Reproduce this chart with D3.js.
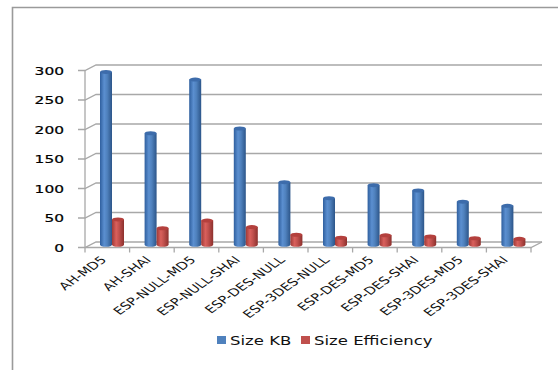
<!DOCTYPE html>
<html><head><meta charset="utf-8">
<script src="https://cdn.jsdelivr.net/npm/d3@7/dist/d3.min.js"></script>
<style>html,body{margin:0;padding:0;background:#fff;}svg{display:block;}</style>
</head><body>
<script>
const categories = ["AH-MD5","AH-SHAI","ESP-NULL-MD5","ESP-NULL-SHAI","ESP-DES-NULL","ESP-3DES-NULL","ESP-DES-MD5","ESP-DES-SHAI","ESP-3DES-MD5","ESP-3DES-SHAI"];
const sizeKB = [293, 189, 280, 197, 106, 79, 101, 92, 73, 66];
const sizeEfficiency = [43, 28, 41, 30, 17, 12, 16, 14, 11, 10];
const seriesNames = ["Size KB", "Size Efficiency"];
const yTicks = [0, 50, 100, 150, 200, 250, 300];

const W = 558, H = 370, SX = 1.4;
const svg = d3.select("body").append("svg").attr("width", W).attr("height", H);
const defs = svg.append("defs");
function grad(id, stops) {
  const g = defs.append("linearGradient").attr("id", id).attr("x1", "0").attr("x2", "1").attr("y1", "0").attr("y2", "0");
  stops.forEach(s => g.append("stop").attr("offset", s[0]).attr("stop-color", s[1]));
}
grad("gBlue", [[0, "#2f5f9e"], [0.35, "#5b8fd0"], [0.6, "#4f81bd"], [1, "#2c5589"]]);
grad("gRed", [[0, "#9e3a37"], [0.35, "#d9605c"], [0.6, "#c0504d"], [1, "#8c302d"]]);
const fills = ["url(#gBlue)", "url(#gRed)"];
const tops = ["#3d6cab", "#b4403d"];
const legendCols = ["#4f81bd", "#c0504d"];

// outer frame
svg.append("path").attr("d", `M12.5,${H} V7.5 H${W}`).attr("fill", "none").attr("stroke", "#9a9a9a").attr("stroke-width", 1.6);

const x0 = 85, x1 = 531, yBase = 247.5, yTop = 70.5;
const dx = 11, dy = -5.5;
const y = d3.scaleLinear().domain([0, 300]).range([yBase, yTop]);
const x = d3.scaleBand().domain(categories).range([x0, x1]);
const xs = d3.scaleBand().domain(seriesNames).range([9.5, 33.5]);

// grid lines (back wall) + side diagonals + front ticks
const g = svg.append("g").attr("stroke", "#a8a8a8").attr("stroke-width", 1.3).attr("fill", "none");
yTicks.forEach(t => {
  const yy = y(t);
  g.append("path").attr("d", `M${x0 - 7},${yy} H${x0} L${x0 + dx},${yy + dy} H${x1 + dx}`);
});
g.append("path").attr("d", `M${x0},${y(0)} V${y(300)}`);
g.append("path").attr("d", `M${x0},${yBase} H${x1} L${x1 + dx},${yBase + dy}`);
categories.forEach((c, i) => {
  const xx = x(c);
  g.append("path").attr("d", `M${xx},${yBase} v5`);
});
g.append("path").attr("d", `M${x1},${yBase} v5`);

// y tick labels
svg.append("g").selectAll("text").data(yTicks).join("text")
  .attr("transform", d => `translate(64,${y(d) + 4}) scale(${SX},1)`)
  .attr("text-anchor", "end").attr("font-family", "DejaVu Sans").attr("font-size", 11)
  .attr("fill", "#000").attr("stroke", "#000").attr("stroke-width", 0.2).text(d => d);

// bars
const data = [sizeKB, sizeEfficiency];
const bh = dx / 2, bv = dy / 2;
data.forEach((vals, si) => {
  const gg = svg.append("g");
  vals.forEach((v, i) => {
    const bx = x(categories[i]) + xs(seriesNames[si]) + bh;
    const bw = xs.bandwidth();
    const yt = y(v) + bv, yb = y(0) + bv;
    const ry = 2;
    gg.append("path")
      .attr("d", `M${bx},${yt} V${yb} A${bw / 2},${ry} 0 0 0 ${bx + bw},${yb} V${yt} Z`)
      .attr("fill", fills[si]);
    gg.append("ellipse").attr("cx", bx + bw / 2).attr("cy", yt).attr("rx", bw / 2).attr("ry", ry)
      .attr("fill", tops[si]);
  });
});

// category labels
svg.append("g").selectAll("text").data(categories).join("text")
  .attr("transform", d => `translate(${x(d) + x.bandwidth() / 2},${yBase + 13}) scale(${SX},1) rotate(-45)`)
  .attr("text-anchor", "end").attr("font-family", "DejaVu Sans").attr("font-size", 10.5)
  .attr("fill", "#111").text(d => d);

// legend
const legX = [217, 301];
seriesNames.forEach((s, i) => {
  svg.append("rect").attr("x", legX[i]).attr("y", 336).attr("width", 9).attr("height", 8).attr("fill", legendCols[i]);
  svg.append("text").attr("transform", `translate(${legX[i] + 13},345) scale(${SX},1)`)
    .attr("font-family", "DejaVu Sans").attr("font-size", 11.8).attr("fill", "#111").text(s);
});
</script>
</body></html>
